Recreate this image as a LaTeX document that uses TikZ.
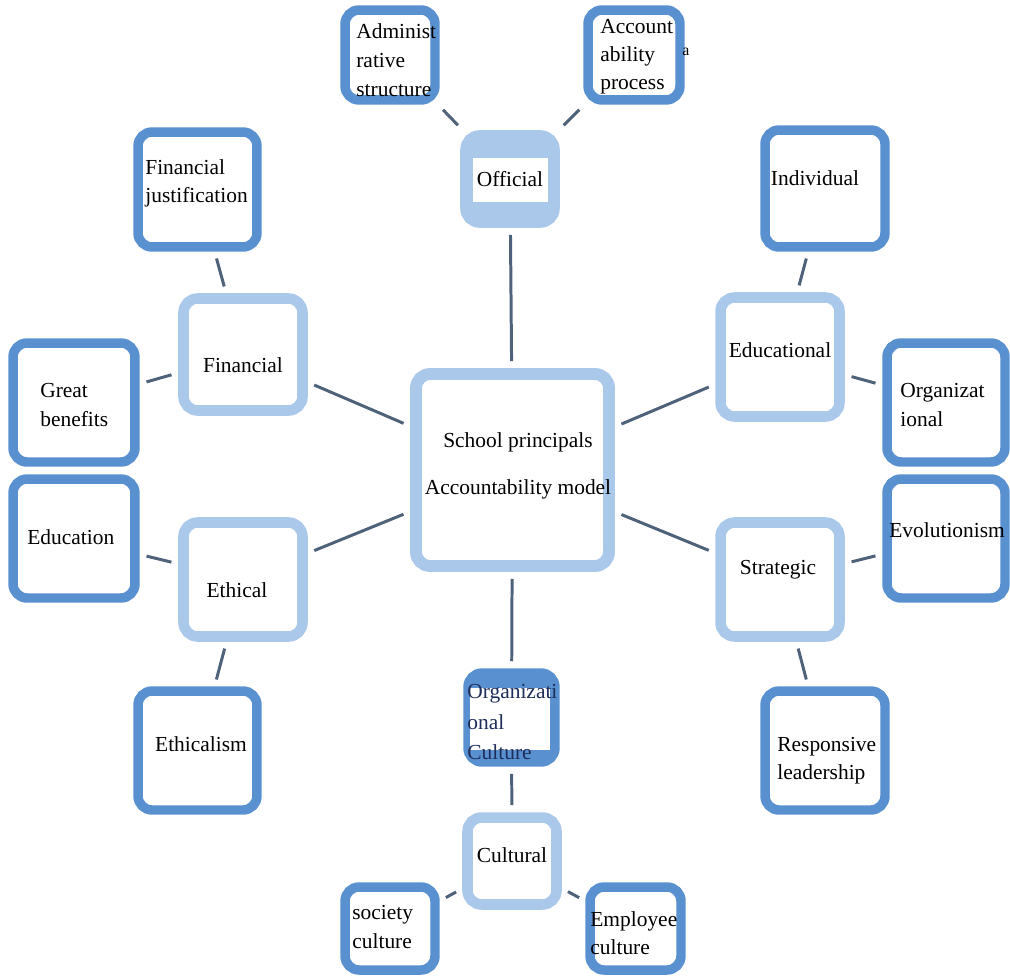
\documentclass[tikz,border=0pt]{standalone}
\usepackage{fontspec}
\setmainfont{Liberation Serif}
\usepackage{tikz}

\definecolor{dkblue}{RGB}{88,144,208}
\definecolor{ltblue}{RGB}{170,201,234}
\definecolor{linkgray}{RGB}{78,98,122}
\definecolor{navytext}{RGB}{30,45,90}

\begin{document}
\begin{tikzpicture}[x=0.02cm,y=-0.02cm,
		dkbox/.style={draw=dkblue,line width=5.4pt,rounded corners=8pt,fill=white,inner sep=0pt},
		ltbox/.style={draw=ltblue,line width=6pt,rounded corners=8pt,fill=white,inner sep=0pt},
		sz/.style 2 args={minimum width=#1cm,minimum height=#2cm},
		txt/.style={font=\rmfamily\fontsize{12.2}{16}\selectfont,align=left,inner sep=0pt},
		link/.style={draw=linkgray,line width=1.7pt,shorten <=4pt,shorten >=4pt}]
			\useasboundingbox (0,0) rectangle (1010,977);
			
			% boxes
			\begin{scope}
				\node[ltbox,line width=6.8pt,sz={3.86}{3.84}] (model) at (512.5,470) {};
				\node[ltbox,fill=ltblue,sz={1.78}{1.74}] (official) at (510,179) {};
				\node[dkbox,sz={1.8}{1.8}] (admin) at (390,55) {};
				\node[dkbox,sz={1.84}{1.8}] (process) at (634,55) {};
				\node[ltbox,sz={2.38}{2.24}] (financial) at (243,354.5) {};
				\node[dkbox,sz={2.38}{2.3}] (justif) at (197.5,189.5) {};
				\node[dkbox,sz={2.44}{2.38}] (benefits) at (74,402.5) {};
				\node[ltbox,sz={2.38}{2.28}] (ethical) at (243,579.5) {};
				\node[dkbox,sz={2.44}{2.38}] (education) at (74,538.5) {};
				\node[dkbox,sz={2.38}{2.38}] (ethicalism) at (197.5,750.5) {};
				\node[dkbox,fill=dkblue,sz={1.74}{1.78}] (orgculture) at (511.5,717.5) {};
				\node[ltbox,sz={1.78}{1.74}] (cultural) at (512,861) {};
				\node[dkbox,sz={1.8}{1.66}] (society) at (390,928.5) {};
				\node[dkbox,sz={1.82}{1.66}] (employee) at (635.5,928.5) {};
				\node[ltbox,sz={2.38}{2.38}] (educational) at (780,357) {};
				\node[dkbox,sz={2.4}{2.34}] (individual) at (825,188.5) {};
				\node[dkbox,sz={2.36}{2.38}] (organiz) at (946,402.5) {};
				\node[ltbox,sz={2.38}{2.28}] (strategic) at (780,579.5) {};
				\node[dkbox,sz={2.36}{2.38}] (evolution) at (946,538.5) {};
				\node[dkbox,sz={2.4}{2.38}] (responsive) at (825,750.5) {};
			\end{scope}
			
			% white patches
			\node[fill=white,inner sep=0pt,minimum width=1.5cm,minimum height=0.88cm] (offpatch) at (510,180) {};
			\node[fill=white,inner sep=0pt,minimum width=1.6cm,minimum height=1.24cm] (orgpatch) at (510,719) {};
			
			% texts
			\begin{scope}[every node/.style={txt}]
				\node[font=\rmfamily\fontsize{12.2}{26.6}\selectfont,align=center] (model-t) at (518,466) {School principals\\Accountability model};
				\node (official-t) at (510,179) {Official};
				\node[anchor=west,font=\rmfamily\fontsize{12.2}{16.4}\selectfont] (admin-t) at (356,60) {Administ\\rative\\structure};
				\node[anchor=west] (process-t) at (600,57) {Account\\ability\\process};
				\node[anchor=west,font=\rmfamily\fontsize{9}{10}\selectfont] (stray-t) at (682,52) {a};
				\node (financial-t) at (243,365) {Financial};
				\node[anchor=west] (justif-t) at (145,183) {Financial\\justification};
				\node[anchor=west] (benefits-t) at (40,405) {Great\\benefits};
				\node (ethical-t) at (237,590) {Ethical};
				\node[anchor=west] (education-t) at (27,537) {Education};
				\node (ethicalism-t) at (201,744) {Ethicalism};
				\node[anchor=west,text=navytext,font=\rmfamily\fontsize{12.2}{17.6}\selectfont] (orgculture-t) at (467,722) {Organizati\\onal\\Culture};
				\node (cultural-t) at (512,855) {Cultural};
				\node[anchor=west] (society-t) at (352,927) {society\\culture};
				\node[anchor=west] (employee-t) at (590,933) {Employee\\culture};
				\node (educational-t) at (780,350) {Educational};
				\node (individual-t) at (815,178) {Individual};
				\node[anchor=west] (organiz-t) at (900,405) {Organizat\\ional};
				\node (strategic-t) at (778,570) {Strategic};
				\node[anchor=west] (evolution-t) at (889,530) {Evolutionism};
				\node[anchor=west] (responsive-t) at (777,761) {Responsive\\leadership};
			\end{scope}
			
			% connectors
			\begin{scope}[every edge/.style={link}]
				\path (model) edge (official);
				\path (official) edge (admin);
				\path (official) edge (process);
				\path (model) edge (financial);
				\path (financial) edge (justif);
				\path (financial) edge (benefits);
				\path (model) edge (ethical);
				\path (ethical) edge (education);
				\path (ethical) edge (ethicalism);
				\path (model) edge (orgculture);
				\path (orgculture) edge (cultural);
				\path (cultural) edge (society);
				\path (cultural) edge (employee);
				\path (model) edge (educational);
				\path (educational) edge (individual);
				\path (educational) edge (organiz);
				\path (model) edge (strategic);
				\path (strategic) edge (evolution);
				\path (strategic) edge (responsive);
			\end{scope}
		\end{tikzpicture}
\end{document}
